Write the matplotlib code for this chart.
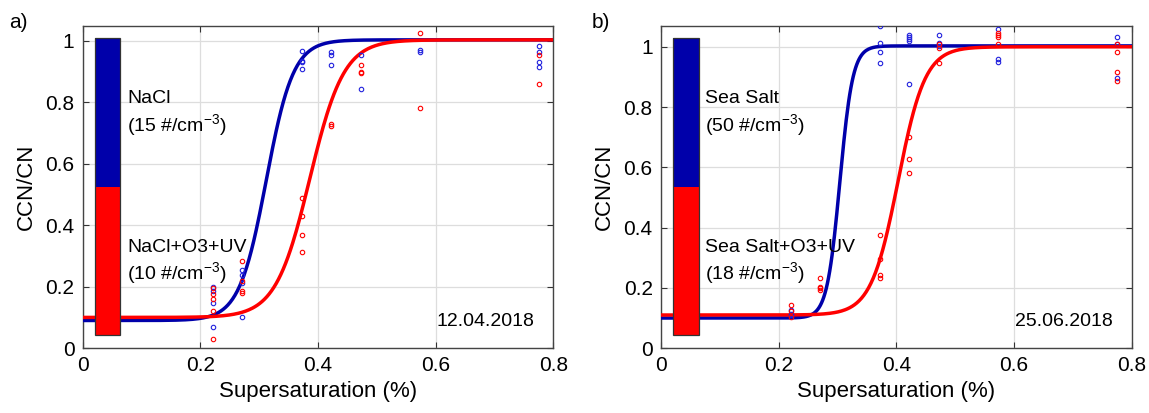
import numpy as np
import matplotlib
matplotlib.use("Agg")
import matplotlib.pyplot as plt
from matplotlib.patches import Rectangle

plt.rcParams['font.family'] = ['Liberation Sans', 'DejaVu Sans']
plt.rcParams['mathtext.fontset'] = 'custom'
plt.rcParams['mathtext.rm'] = 'Liberation Sans'
plt.rcParams['mathtext.it'] = 'Liberation Sans'

# ---------------- data ----------------
# panel a) 12.04.2018
a_blue_x = [0.221]*4 + [0.271]*4 + [0.372]*4 + [0.422]*3 + [0.473]*2 + [0.573]*2 + [0.775]*4
a_blue_y = [0.198, 0.185, 0.146, 0.068,
            0.254, 0.238, 0.213, 0.100,
            0.966, 0.934, 0.930, 0.909,
            0.965, 0.953, 0.921,
            0.953, 0.844,
            0.970, 0.964,
            0.983, 0.963, 0.930, 0.916]
a_red_x = [0.221]*5 + [0.271]*4 + [0.372]*4 + [0.422]*2 + [0.473]*3 + [0.573]*2 + [0.775]*2
a_red_y = [0.195, 0.176, 0.159, 0.121, 0.031,
           0.284, 0.220, 0.187, 0.180,
           0.487, 0.430, 0.368, 0.313,
           0.728, 0.724,
           0.922, 0.900, 0.894,
           1.024, 0.780,
           0.954, 0.861]

# panel b) 25.06.2018
b_blue_x = [0.221]*3 + [0.372]*4 + [0.422]*5 + [0.473]*3 + [0.573]*3 + [0.775]*3
b_blue_y = [0.128, 0.115, 0.110,
            1.069, 1.011, 0.983, 0.945,
            1.040, 1.033, 1.026, 1.020, 0.875,
            1.040, 1.013, 1.003,
            1.059, 0.959, 0.951,
            1.031, 1.010, 0.898]
b_red_x = [0.221]*3 + [0.271]*4 + [0.372]*4 + [0.422]*3 + [0.473]*3 + [0.573]*4 + [0.775]*4
b_red_y = [0.142, 0.124, 0.104,
           0.233, 0.203, 0.198, 0.193,
           0.375, 0.296, 0.242, 0.234,
           0.700, 0.628, 0.581,
           1.009, 0.995, 0.945,
           1.046, 1.039, 1.032, 1.010,
           1.009, 0.982, 0.918, 0.885]

# sigmoid fit parameters: [low, high, midpoint, width]
a_blue_fit = [0.090, 1.003, 0.312, 0.023]
a_red_fit = [0.100, 1.003, 0.386, 0.029]
b_blue_fit = [0.100, 1.003, 0.304, 0.011]
b_red_fit = [0.110, 1.000, 0.403, 0.023]

a_labels = ['NaCl\n(15 #/cm$^{-3}$)', 'NaCl+O3+UV\n(10 #/cm$^{-3}$)']
b_labels = ['Sea Salt\n(50 #/cm$^{-3}$)', 'Sea Salt+O3+UV\n(18 #/cm$^{-3}$)']
dates = ['12.04.2018', '25.06.2018']
xticks = [0, 0.2, 0.4, 0.6, 0.8]
yticks = [0, 0.2, 0.4, 0.6, 0.8, 1]

DARKBLUE = '#0000AA'
BLUE = '#2222DD'
RED = '#FF0000'


def sigmoid(x, p):
    lo, hi, x0, w = p
    return lo + (hi - lo) / (1 + np.exp(-(x - x0) / w))


def draw_panel(ax, bx, by, rx, ry, bfit, rfit, labels, date, ytop):
    xs = np.linspace(0, 0.8, 400)
    ax.plot(xs, sigmoid(xs, bfit), color=DARKBLUE, lw=2.5, zorder=3)
    ax.plot(xs, sigmoid(xs, rfit), color=RED, lw=2.5, zorder=3)
    ax.plot(bx, by, 'o', mfc='none', mec=BLUE, ms=3.2, mew=0.8, zorder=4)
    ax.plot(rx, ry, 'o', mfc='none', mec=RED, ms=3.2, mew=0.8, zorder=4)
    ax.set_xlim(0, 0.8)
    ax.set_ylim(0, ytop)
    ax.set_xticks(xticks)
    ax.set_xticklabels([f'{t:g}' for t in xticks])
    ax.set_yticks(yticks)
    ax.set_yticklabels([f'{t:g}' for t in yticks])
    ax.tick_params(direction='in', length=4, labelsize=15, top=True, right=True,
                   color='#333333', pad=6)
    ax.grid(True, color='#DDDDDD', lw=0.9)
    ax.set_axisbelow(True)
    for s in ax.spines.values():
        s.set_color('#444444')
        s.set_linewidth(1.0)
    ax.set_xlabel('Supersaturation (%)', fontsize=16)
    ax.set_ylabel('CCN/CN', fontsize=16, labelpad=6)
    # colour bar style legend
    ax.add_patch(Rectangle((0.0255, 0.501), 0.0545, 0.461, transform=ax.transAxes,
                           facecolor=DARKBLUE, edgecolor='none', zorder=5))
    ax.add_patch(Rectangle((0.0255, 0.040), 0.0545, 0.461, transform=ax.transAxes,
                           facecolor=RED, edgecolor='none', zorder=5))
    ax.add_patch(Rectangle((0.0255, 0.040), 0.0545, 0.922, transform=ax.transAxes,
                           facecolor='none', edgecolor='#333333', lw=0.9, zorder=6))
    ax.text(0.094, 0.727, labels[0], transform=ax.transAxes, fontsize=14,
            va='center', ha='left', linespacing=1.25, zorder=6)
    ax.text(0.094, 0.266, labels[1], transform=ax.transAxes, fontsize=14,
            va='center', ha='left', linespacing=1.25, zorder=6)
    ax.text(0.959, 0.082, date, transform=ax.transAxes, fontsize=14,
            va='center', ha='right', zorder=6)


fig = plt.figure(figsize=(11.49, 4.13), dpi=100)
ax1 = fig.add_axes([0.072, 0.157, 0.4096, 0.780])
ax2 = fig.add_axes([0.5753, 0.157, 0.4096, 0.780])

draw_panel(ax1, a_blue_x, a_blue_y, a_red_x, a_red_y, a_blue_fit, a_red_fit,
           a_labels, dates[0], 1.048)
draw_panel(ax2, b_blue_x, b_blue_y, b_red_x, b_red_y, b_blue_fit, b_red_fit,
           b_labels, dates[1], 1.069)

fig.text(0.008, 0.945, 'a)', fontsize=15, va='center', ha='left')
fig.text(0.515, 0.945, 'b)', fontsize=15, va='center', ha='left')

fig.savefig('out.png', dpi=100)
